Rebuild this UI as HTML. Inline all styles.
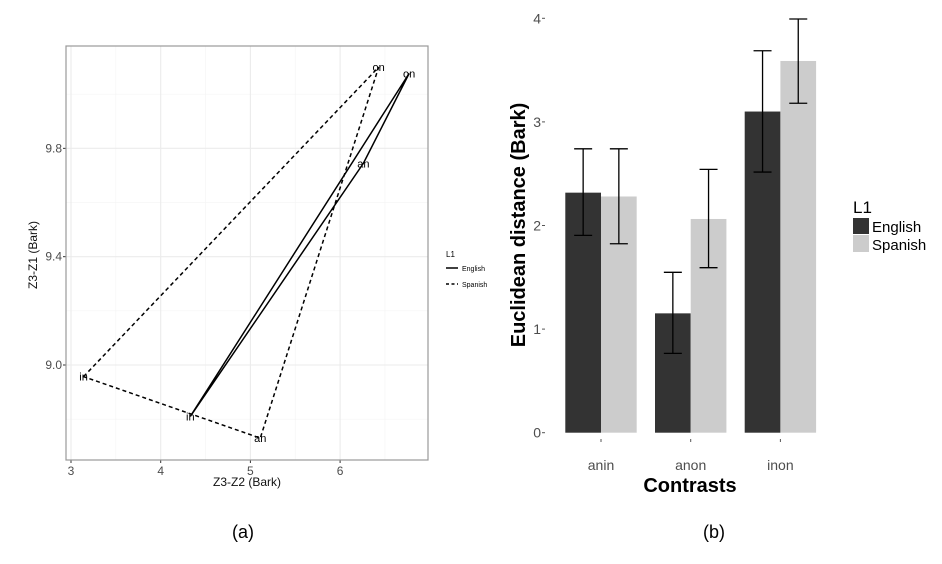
<!DOCTYPE html>
<html><head><meta charset="utf-8"><style>
body{margin:0;background:#fff;}
svg{display:block;font-family:"Liberation Sans",sans-serif;}
</style></head><body>
<svg id="fig" width="942" height="564" xmlns="http://www.w3.org/2000/svg">
<g id="left"></g>
<g id="right"></g>
<text x="243" y="538" font-size="18" text-anchor="middle">(a)</text>
<text x="714" y="538" font-size="18" text-anchor="middle">(b)</text>
</svg>
<script>
// ---- Left chart data ----
const vowels = ["in","on","an"];
const englishX = [4.33, 6.77, 6.26];
const englishY = [8.81, 10.077, 9.745];
const spanishX = [3.14, 6.43, 5.11];
const spanishY = [8.957, 10.10, 8.73];
const xTicks = [3,4,5,6];
const yTicks = [9.0,9.4,9.8];
// ---- Right chart data ----
const contrasts = ["anin","anon","inon"];
const englishMean = [2.317, 1.152, 3.10];
const spanishMean = [2.28, 2.063, 3.588];
const englishHi = [2.74, 1.548, 3.687];
const englishLo = [1.905, 0.766, 2.516];
const spanishHi = [2.74, 2.542, 3.993];
const spanishLo = [1.824, 1.593, 3.18];
const barTicks = [0,1,2,3,4];

const NS="http://www.w3.org/2000/svg";
function mk(parent,tag,attrs,text){const e=document.createElementNS(NS,tag);for(const k in attrs)e.setAttribute(k,attrs[k]);if(text!==undefined)e.textContent=text;parent.appendChild(e);return e;}

// Left
const L=document.getElementById('left');
const lx=v=>71+(v-3)*89.7, ly=v=>365-(v-9.0)*270.8;
const px0=66,px1=428,py0=46,py1=460;
[3.5,4.5,5.5,6.5].forEach(v=>{const g=mk(L,'line',{x1:lx(v),x2:lx(v),y1:py0,y2:py1,stroke:'#f4f4f4','stroke-width':0.6});});
[8.8,9.2,9.6,10.0].forEach(v=>{const g=mk(L,'line',{x1:px0,x2:px1,y1:ly(v),y2:ly(v),stroke:'#f4f4f4','stroke-width':0.6});});
xTicks.forEach(v=>{const g=mk(L,'line',{x1:lx(v),x2:lx(v),y1:py0,y2:py1,stroke:'#ebebeb','stroke-width':1.1});
 mk(L,'line',{x1:lx(v),x2:lx(v),y1:py1,y2:py1+3,stroke:'#333'});
 const t=mk(L,'text',{x:lx(v),y:py1+15,'font-size':12,fill:'#4d4d4d','text-anchor':'middle'},String(v));});
yTicks.forEach(v=>{const g=mk(L,'line',{x1:px0,x2:px1,y1:ly(v),y2:ly(v),stroke:'#ebebeb','stroke-width':1.1});
 mk(L,'line',{x1:px0-3,x2:px0,y1:ly(v),y2:ly(v),stroke:'#333'});
 const t=mk(L,'text',{x:px0-4,y:ly(v)+4,'font-size':12,fill:'#4d4d4d','text-anchor':'end'},v.toFixed(1));});
const fr=mk(L,'rect',{x:px0,y:py0,width:px1-px0,height:py1-py0,fill:'none',stroke:'#999','stroke-width':1.2});

function tri(xs,ys,dash,name){const pts=xs.map((x,i)=>lx(x)+','+ly(ys[i])).join(' ');
 const p=mk(L,'polygon',{points:pts,fill:'none',stroke:'#000','stroke-width':1.5,'stroke-dasharray':dash});
 
 xs.forEach((x,i)=>{const t=mk(L,'text',{x:lx(x),y:ly(ys[i])+4,'font-size':11,'text-anchor':'middle'},vowels[i]);});}
tri(englishX,englishY,'none','english-triangle');
tri(spanishX,spanishY,'4,3','spanish-triangle');
let t=mk(L,'text',{x:247,y:486,'font-size':12,fill:'#111','text-anchor':'middle'},'Z3-Z2 (Bark)');
t=mk(L,'text',{x:0,y:0,'font-size':12,fill:'#111','text-anchor':'middle',transform:'translate(37,255) rotate(-90)'},'Z3-Z1 (Bark)');
t=mk(L,'text',{x:446,y:257,'font-size':8},'L1');
mk(L,'line',{x1:446,x2:458,y1:268,y2:268,stroke:'#000','stroke-width':1.5});
t=mk(L,'text',{x:462,y:271,'font-size':7},'English');
mk(L,'line',{x1:446,x2:458,y1:284,y2:284,stroke:'#000','stroke-width':1.5,'stroke-dasharray':'3,2.5'});
t=mk(L,'text',{x:462,y:287,'font-size':7},'Spanish');

// Right
const R=document.getElementById('right');
const by=v=>432.7-v*103.6, bx=i=>601+i*89.7, bw=35.7;
barTicks.forEach(v=>{mk(R,'line',{x1:542,x2:545,y1:by(v),y2:by(v),stroke:'#555'});
 const t=mk(R,'text',{x:541,y:by(v)+5,'font-size':14,fill:'#4d4d4d','text-anchor':'end'},String(v));});
contrasts.forEach((c,i)=>{
 let r=mk(R,'rect',{x:bx(i)-bw,y:by(englishMean[i]),width:bw,height:by(0)-by(englishMean[i]),fill:'#333'});
 r=mk(R,'rect',{x:bx(i),y:by(spanishMean[i]),width:bw,height:by(0)-by(spanishMean[i]),fill:'#cccccc'});
 [[bx(i)-bw/2,englishHi[i],englishLo[i],'english'],[bx(i)+bw/2,spanishHi[i],spanishLo[i],'spanish']].forEach(([cx,hi,lo,n])=>{
  const g=mk(R,'path',{d:`M${cx-9},${by(hi)}H${cx+9}M${cx},${by(hi)}V${by(lo)}M${cx-9},${by(lo)}H${cx+9}`,stroke:'#000','stroke-width':1.3,fill:'none'});
  });
 mk(R,'line',{x1:bx(i),x2:bx(i),y1:439,y2:442,stroke:'#555'});
 const t=mk(R,'text',{x:bx(i),y:470,'font-size':14,fill:'#4d4d4d','text-anchor':'middle'},c);});
t=mk(R,'text',{x:690,y:492,'font-size':20,'font-weight':'bold','text-anchor':'middle'},'Contrasts');
t=mk(R,'text',{x:0,y:0,'font-size':20,'font-weight':'bold','text-anchor':'middle',transform:'translate(525,225) rotate(-90)'},'Euclidean distance (Bark)');
t=mk(R,'text',{x:853,y:213,'font-size':17},'L1');
let s=mk(R,'rect',{x:853,y:218,width:16,height:16,fill:'#333'});
s=mk(R,'rect',{x:853,y:235,width:16,height:17,fill:'#cccccc'});
t=mk(R,'text',{x:872,y:232,'font-size':15},'English');
t=mk(R,'text',{x:872,y:250,'font-size':15},'Spanish');
</script>
</body></html>
